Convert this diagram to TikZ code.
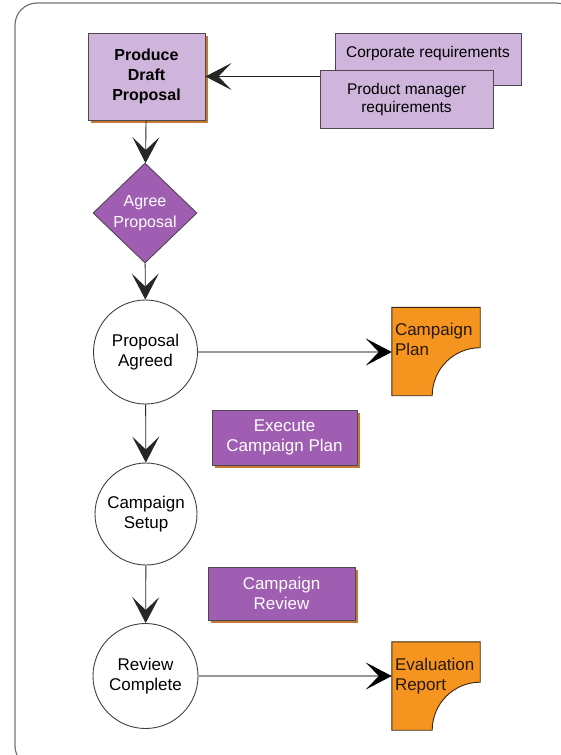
\documentclass[tikz,border=0pt]{standalone}
\usepackage{fontspec}
\setmainfont{Liberation Sans}
\usepackage{xcolor}
\usepackage{tikz}
\usetikzlibrary{shapes.geometric,arrows.meta,shadows}
\pgfdeclarelayer{background}
\pgfsetlayers{background,main}
\definecolor{lightlilac}{RGB}{207,180,219}
\definecolor{darklilac}{RGB}{160,94,178}
\definecolor{docorange}{RGB}{246,148,32}
\definecolor{edgegray}{RGB}{80,70,82}
\definecolor{shadowbrown}{RGB}{196,120,50}
\tikzset{every node/.style={font=\fontsize{17}{20}\selectfont, align=center},
    task/.style={draw=edgegray, fill=lightlilac, rectangle, line width=0.9pt,
        font=\fontsize{15.5}{18}\selectfont},
    activity/.style={draw=edgegray, fill=darklilac, text=white, rectangle, line width=0.9pt},
    shadowed/.style={drop shadow={shadow xshift=2.5pt, shadow yshift=-2.5pt,
        fill=shadowbrown, opacity=1}},
    decision/.style={draw=edgegray, fill=darklilac, text=white, diamond,
        inner sep=0pt, line width=0.9pt, font=\fontsize{16}{21}\selectfont},
    state/.style={draw=black!75, circle, inner sep=0pt, line width=0.9pt,
        minimum size=104pt},
    document/.style={rectangle, inner sep=3pt, text width=82pt, align=left,
        minimum height=88pt, text depth=44pt, text=black!80!brown},
    flow/.style={draw=black!85, line width=0.9pt,
        -{Stealth[length=26pt, width=27pt, inset=13pt]}},
    output/.style={draw=black!40, line width=2pt,
        -{Stealth[length=26pt, width=27pt, inset=13pt, color=black]}}}

\begin{document}
\begin{tikzpicture}[x=1pt, y=1pt]
    \useasboundingbox (0,0) rectangle (561,-755);
    \begin{scope}
        \clip (0,0) rectangle (561,-755);
        \draw[black!55, line width=1.2pt, rounded corners=22pt] (15,-3) rectangle (578,-768);
    \end{scope}

    % requirements and draft
    \node[task, shadowed, minimum width=117pt, minimum height=87pt,
        font=\bfseries\fontsize{16}{20}\selectfont] (draft) at (146.5,-76.5)
        {Produce\\Draft\\Proposal};
    \node[task, minimum width=186pt, minimum height=52pt, text depth=14pt]
        (corp) at (428,-59) {Corporate requirements};
    \node[task, minimum width=173pt, minimum height=58pt]
        (prod) at (406.5,-99) {Product manager\\requirements};

    % main line
    \node[decision, minimum width=104pt, minimum height=100pt] (agree) at (145,-213)
        {Agree\\Proposal};
    \node[state] (agreed) at (145.5,-352) {Proposal\\Agreed};
    \node[state, minimum size=102pt] (setup) at (146,-514) {Campaign\\Setup};
    \node[state, minimum size=105pt] (complete) at (145.5,-676) {Review\\Complete};

    % activities
    \node[activity, shadowed, minimum width=145pt, minimum height=55pt]
        (execute) at (284.5,-437.5) {Execute\\Campaign Plan};
    \node[activity, shadowed, minimum width=147pt, minimum height=53pt]
        (review) at (281.5,-593.5) {Campaign\\Review};

    % outputs
    \node[document] (plan) at (436,-351.5) {Campaign\\Plan};
    \node[document] (report) at (436,-686) {Evaluation\\Report};
    \begin{pgfonlayer}{background}
        \foreach \doc in {plan,report}
            \filldraw[fill=docorange, draw=black!70!brown, line width=0.9pt]
                (\doc.north west) -- (\doc.north east) -- ([yshift=48pt]\doc.south east)
                arc[start angle=90, end angle=180, radius=48pt]
                -- (\doc.south west) -- cycle;
    \end{pgfonlayer}

    \draw[flow] (draft.east -| prod.west) -- (draft.east);
    \draw[flow] (draft) -- (agree);
    \draw[flow] (agree) -- (agreed);
    \draw[flow] (agreed) -- (setup);
    \draw[flow] (setup) -- (complete);
    \draw[output] (agreed.east) -- (agreed.east -| plan.west);
    \draw[output] (complete.east) -- (complete.east -| report.west);
\end{tikzpicture}
\end{document}
